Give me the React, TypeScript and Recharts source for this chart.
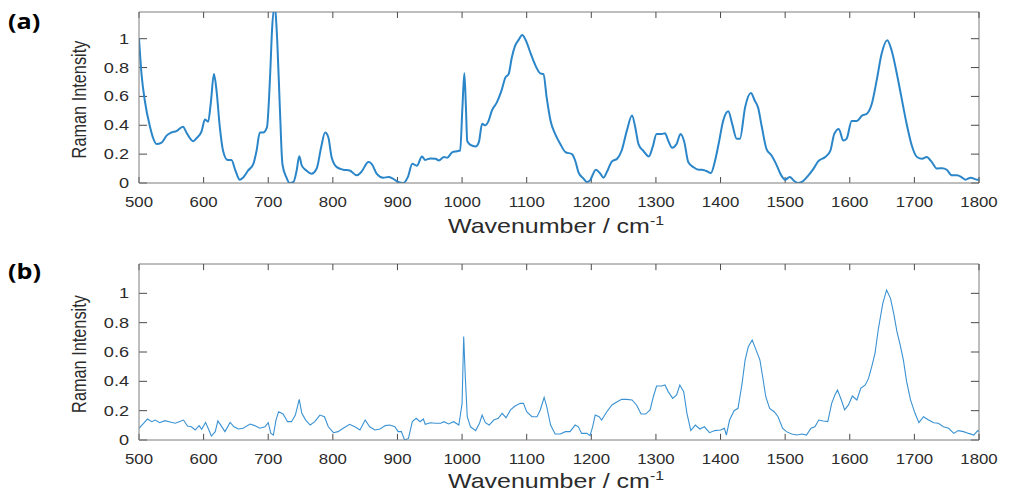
import React from 'react';
import { LineChart, Line, XAxis, YAxis, ReferenceLine } from 'recharts';

// ---------- data ----------
const wavenumbersA = [
  500, 504, 509, 517, 522, 527, 535, 543, 550, 558, 568, 574, 584, 589, 597, 602, 607, 611, 616, 620,
  625, 630, 637, 643, 649, 656, 661, 669, 677, 682, 687, 692, 698, 703, 706, 710, 714, 718, 722, 728,
  733, 739, 744, 748, 752, 759, 767, 775, 782, 788, 793, 798, 806, 816, 826, 837, 844, 855, 860, 868,
  878, 886, 893, 901, 909, 916, 923, 930, 938, 943, 951, 959, 964, 972, 977, 985, 992, 997, 1000.5, 1003.5,
  1006, 1008, 1013, 1021, 1026, 1031, 1036, 1041, 1046, 1054, 1061, 1067, 1072, 1077, 1082, 1088, 1093, 1098, 1106, 1113,
  1121, 1126, 1131, 1137, 1144, 1152, 1160, 1170, 1175, 1180, 1188, 1193, 1198, 1207, 1214, 1219, 1224, 1232, 1240, 1247,
  1255, 1263, 1268, 1273, 1281, 1289, 1295, 1301, 1309, 1314, 1319, 1325, 1332, 1338, 1344, 1350, 1358, 1366, 1371, 1378,
  1385, 1391, 1397, 1404, 1412, 1418, 1425, 1430, 1438, 1447, 1453, 1458, 1464, 1471, 1479, 1487, 1494, 1500, 1507, 1514,
  1520, 1528, 1536, 1544, 1551, 1562, 1570, 1576, 1583, 1590, 1595, 1603, 1611, 1619, 1626, 1634, 1642, 1649, 1658, 1665,
  1673, 1680, 1688, 1696, 1704, 1712, 1719, 1727, 1735, 1743, 1750, 1758, 1766, 1774, 1779, 1787, 1797, 1800,
];
const intensityA = [
  1.0, 0.75, 0.57, 0.39, 0.31, 0.27, 0.28, 0.33, 0.35, 0.36, 0.39, 0.345, 0.29, 0.31, 0.36, 0.44, 0.425, 0.55, 0.755, 0.64,
  0.39, 0.225, 0.16, 0.16, 0.09, 0.023, 0.037, 0.087, 0.133, 0.225, 0.35, 0.35, 0.386, 0.754, 1.07, 1.22, 0.98, 0.52, 0.13, 0.04,
  0.0, 0.007, 0.087, 0.186, 0.12, 0.087, 0.064, 0.1, 0.25, 0.35, 0.317, 0.18, 0.11, 0.092, 0.087, 0.053, 0.076, 0.145, 0.133, 0.064,
  0.037, 0.041, 0.03, 0.007, 0.0, 0.041, 0.133, 0.12, 0.184, 0.16, 0.17, 0.168, 0.156, 0.18, 0.175, 0.214, 0.22, 0.225, 0.52, 0.76,
  0.52, 0.29, 0.264, 0.253, 0.283, 0.41, 0.4, 0.43, 0.5, 0.56, 0.64, 0.73, 0.754, 0.87, 0.95, 0.995, 1.025, 0.995, 0.9, 0.82,
  0.76, 0.754, 0.59, 0.43, 0.34, 0.27, 0.214, 0.2, 0.156, 0.076, 0.03, 0.007, 0.018, 0.092, 0.064, 0.037, 0.076, 0.15, 0.168, 0.225,
  0.363, 0.467, 0.386, 0.27, 0.22, 0.184, 0.25, 0.34, 0.34, 0.345, 0.294, 0.244, 0.27, 0.34, 0.283, 0.145, 0.11, 0.092, 0.092, 0.083,
  0.069, 0.145, 0.27, 0.43, 0.497, 0.41, 0.306, 0.306, 0.524, 0.623, 0.57, 0.524, 0.386, 0.237, 0.19, 0.122, 0.053, 0.023, 0.041, 0.014,
  0.0, 0.014, 0.053, 0.1, 0.15, 0.18, 0.225, 0.34, 0.375, 0.294, 0.306, 0.43, 0.43, 0.467, 0.478, 0.547, 0.72, 0.89, 0.99, 0.915,
  0.754, 0.593, 0.41, 0.26, 0.18, 0.168, 0.18, 0.145, 0.1, 0.103, 0.092, 0.053, 0.053, 0.037, 0.023, 0.037, 0.023, 0.023,
];

const wavenumbersB = [
  500, 507, 513, 520, 525, 532, 540, 548, 556, 562, 569, 575, 581, 587, 593, 597, 603, 607, 612, 618,
  622, 627, 633, 641, 647, 654, 661, 672, 679, 687, 695, 700, 704, 708, 712, 716, 723, 730, 736, 742,
  748, 752, 758, 765, 772, 780, 787, 793, 801, 808, 816, 826, 834, 842, 850, 857, 865, 873, 881, 888,
  896, 901, 906, 911, 917, 923, 929, 935, 940, 943, 951, 959, 967, 972, 979, 987, 995, 1000, 1002.5, 1005,
  1008, 1013, 1021, 1027, 1031, 1036, 1042, 1049, 1056, 1062, 1068, 1075, 1082, 1090, 1095, 1100, 1108, 1116, 1121, 1127,
  1131, 1137, 1144, 1152, 1160, 1167, 1175, 1180, 1185, 1193, 1198, 1202, 1206, 1212, 1216, 1224, 1232, 1240, 1247, 1255,
  1263, 1270, 1277, 1284, 1291, 1296, 1301, 1309, 1314, 1319, 1326, 1332, 1337, 1343, 1348, 1354, 1361, 1368, 1375, 1383,
  1391, 1400, 1406, 1409, 1414, 1421, 1427, 1433, 1438, 1443, 1449, 1454, 1461, 1466, 1470, 1476, 1483, 1489, 1496, 1502,
  1510, 1518, 1526, 1533, 1540, 1546, 1552, 1559, 1566, 1572, 1577, 1581, 1587, 1592, 1598, 1604, 1611, 1617, 1624, 1629,
  1634, 1639, 1644, 1651, 1657, 1663, 1668, 1673, 1678, 1683, 1688, 1694, 1701, 1707, 1714, 1722, 1730, 1737, 1745, 1753,
  1761, 1768, 1776, 1784, 1792, 1798, 1800,
];
const intensityB = [
  0.08, 0.114, 0.143, 0.125, 0.136, 0.118, 0.132, 0.123, 0.114, 0.125, 0.136, 0.095, 0.09, 0.068, 0.098, 0.073, 0.12, 0.08, 0.027, 0.057,
  0.13, 0.098, 0.057, 0.12, 0.09, 0.075, 0.08, 0.109, 0.098, 0.08, 0.09, 0.118, 0.045, 0.034, 0.136, 0.193, 0.177, 0.125, 0.125, 0.17,
  0.277, 0.182, 0.136, 0.102, 0.125, 0.17, 0.159, 0.09, 0.05, 0.057, 0.08, 0.107, 0.09, 0.068, 0.136, 0.09, 0.068, 0.075, 0.098, 0.102,
  0.09, 0.057, 0.057, 0.0, 0.011, 0.125, 0.148, 0.125, 0.143, 0.107, 0.118, 0.114, 0.114, 0.125, 0.109, 0.125, 0.102, 0.25, 0.705, 0.43,
  0.159, 0.09, 0.064, 0.114, 0.17, 0.118, 0.102, 0.136, 0.148, 0.182, 0.152, 0.205, 0.232, 0.25, 0.25, 0.193, 0.159, 0.159, 0.205, 0.29,
  0.227, 0.102, 0.041, 0.041, 0.057, 0.057, 0.102, 0.09, 0.045, 0.045, 0.03, 0.09, 0.17, 0.159, 0.136, 0.193, 0.239, 0.261, 0.277, 0.277,
  0.273, 0.239, 0.177, 0.177, 0.205, 0.295, 0.368, 0.368, 0.375, 0.33, 0.284, 0.307, 0.375, 0.33, 0.182, 0.064, 0.102, 0.075, 0.09, 0.05,
  0.064, 0.068, 0.08, 0.034, 0.136, 0.2, 0.216, 0.375, 0.545, 0.636, 0.682, 0.625, 0.545, 0.409, 0.295, 0.216, 0.193, 0.159, 0.08, 0.057,
  0.041, 0.034, 0.041, 0.034, 0.08, 0.09, 0.136, 0.13, 0.125, 0.25, 0.307, 0.34, 0.273, 0.205, 0.239, 0.3, 0.273, 0.352, 0.375, 0.42,
  0.5, 0.59, 0.75, 0.93, 1.023, 0.966, 0.864, 0.739, 0.648, 0.545, 0.398, 0.273, 0.182, 0.118, 0.159, 0.136, 0.118, 0.114, 0.09, 0.08,
  0.045, 0.064, 0.057, 0.045, 0.034, 0.064, 0.057,
];

const xTicks = [500, 600, 700, 800, 900, 1000, 1100, 1200, 1300, 1400, 1500, 1600, 1700, 1800];
const yTicks = [0, 0.2, 0.4, 0.6, 0.8, 1];
const yTickLabels = ['0', '0.2', '0.4', '0.6', '0.8', '1'];
const panelLabels = ['(a)', '(b)'];
const xTitle = 'Wavenumber / cm';
const xTitleSup = '-1';
const yTitle = 'Raman Intensity';

// ---------- styling ----------
const FONT = '"Liberation Sans", Arial, Helvetica, sans-serif';
const TEXT = '#2b2b2b';
const BOX = '#7d7d7d';
const TICK = '#4a4a4a';
const X_MIN = 500;
const X_MAX = 1800;

const XTick = (props: any) => {
  const { x, y, payload } = props;
  return (
    <g transform={`translate(${x},${y + 24})`}>
      <text transform="scale(1.2,1)" textAnchor="middle" fontFamily={FONT} fontSize={14} fill={TEXT}>
        {payload.value}
      </text>
    </g>
  );
};

const YTick = (props: any) => {
  const { x, y, payload } = props;
  const idx = yTicks.indexOf(payload.value);
  const label = idx >= 0 ? yTickLabels[idx] : String(payload.value);
  return (
    <g transform={`translate(${x - 10},${y + 5})`}>
      <text transform="scale(1.25,1)" textAnchor="end" fontFamily={FONT} fontSize={14.5} fill={TEXT}>
        {label}
      </text>
    </g>
  );
};

type PanelProps = {
  wn: number[];
  values: number[];
  yMax: number;
  height: number;
  marginTop: number;
  marginBottom: number;
  axisHeight: number;
  color: string;
  strokeWidth: number;
  curve: 'monotone' | 'linear';
};

const Panel = ({ wn, values, yMax, height, marginTop, marginBottom, axisHeight, color, strokeWidth, curve }: PanelProps) => {
  const data = wn.map((w, i) => ({ wn: w, v: values[i] }));
  const vLen = 0.042 * (yMax / 1.2); // vertical tick length (data units)
  const hLen = 12.5; // horizontal tick length (wavenumber units)
  return (
    <LineChart width={1013} height={height} data={data} margin={{ top: marginTop, right: 34, left: 0, bottom: marginBottom }}>
      <XAxis
        dataKey="wn"
        type="number"
        domain={[X_MIN, X_MAX]}
        ticks={xTicks}
        interval={0}
        allowDataOverflow
        tick={<XTick />}
        tickLine={false}
        tickSize={0}
        tickMargin={0}
        height={axisHeight}
        axisLine={{ stroke: BOX, strokeWidth: 1 }}
      />
      <YAxis
        type="number"
        domain={[0, yMax]}
        ticks={yTicks}
        interval={0}
        allowDataOverflow
        width={139}
        tick={<YTick />}
        tickLine={false}
        tickSize={0}
        tickMargin={0}
        axisLine={{ stroke: BOX, strokeWidth: 1 }}
      />
      <ReferenceLine y={yMax} stroke={BOX} strokeWidth={1} ifOverflow="visible" />
      <ReferenceLine x={X_MAX} stroke={BOX} strokeWidth={1} ifOverflow="visible" />
      {xTicks.map((t) => (
        <ReferenceLine key={`xb${t}`} ifOverflow="visible" segment={[{ x: t, y: 0 }, { x: t, y: vLen }]} stroke={TICK} strokeWidth={1} />
      ))}
      {xTicks.map((t) => (
        <ReferenceLine key={`xt${t}`} ifOverflow="visible" segment={[{ x: t, y: yMax }, { x: t, y: yMax - vLen }]} stroke={TICK} strokeWidth={1} />
      ))}
      {yTicks.map((t) => (
        <ReferenceLine key={`yl${t}`} ifOverflow="visible" segment={[{ x: X_MIN, y: t }, { x: X_MIN + hLen, y: t }]} stroke={TICK} strokeWidth={1} />
      ))}
      {yTicks.map((t) => (
        <ReferenceLine key={`yr${t}`} ifOverflow="visible" segment={[{ x: X_MAX, y: t }, { x: X_MAX - hLen, y: t }]} stroke={TICK} strokeWidth={1} />
      ))}
      <Line
        type={curve}
        dataKey="v"
        stroke={color}
        strokeWidth={strokeWidth}
        dot={false}
        activeDot={false}
        isAnimationActive={false}
      />
    </LineChart>
  );
};

const Titles = ({ plotTop, plotBottom, xTitleBaseline, panelBaseline, label }: any) => {
  const cy = (plotTop + plotBottom) / 2 + 2;
  return (
    <g>
      <g transform={`translate(8,${panelBaseline}) scale(1.2,1)`}>
        <text fontFamily='"Open Sans", "Liberation Sans", sans-serif' fontWeight={700} fontSize={21} fill="#000">
          {label}
        </text>
      </g>
      <g transform={`translate(86,${cy}) rotate(-90) scale(1,1.2)`}>
        <text textAnchor="middle" fontFamily={FONT} fontSize={16.3} fill={TEXT}>
          {yTitle}
        </text>
      </g>
      <g transform={`translate(556,${xTitleBaseline}) scale(1.22,1)`}>
        <text textAnchor="middle" fontFamily={FONT} fontSize={20.5} fill={TEXT}>
          {xTitle}
          <tspan fontSize={13} dy={-8}>
            {xTitleSup}
          </tspan>
        </text>
      </g>
    </g>
  );
};

export default function App() {
  return (
    <div style={{ position: 'absolute', left: 0, top: 0, width: 1013, height: 493, background: '#fff', overflow: 'hidden' }}>
      <div style={{ position: 'absolute', left: 0, top: 0 }}>
        <Panel
          wn={wavenumbersA}
          values={intensityA}
          yMax={1.185}
          height={250}
          marginTop={12}
          marginBottom={6}
          axisHeight={61}
          color="#2a86c9"
          strokeWidth={2}
          curve="monotone"
        />
      </div>
      <div style={{ position: 'absolute', left: 0, top: 250 }}>
        <Panel
          wn={wavenumbersB}
          values={intensityB}
          yMax={1.2}
          height={243}
          marginTop={14}
          marginBottom={3}
          axisHeight={50}
          color="#3a92d3"
          strokeWidth={1.1}
          curve="linear"
        />
      </div>
      <svg width={1013} height={493} style={{ position: 'absolute', left: 0, top: 0, pointerEvents: 'none' }}>
        <Titles plotTop={12} plotBottom={183} xTitleBaseline={233} panelBaseline={29} label={panelLabels[0]} />
        <Titles plotTop={264} plotBottom={440} xTitleBaseline={488} panelBaseline={279} label={panelLabels[1]} />
      </svg>
    </div>
  );
}
